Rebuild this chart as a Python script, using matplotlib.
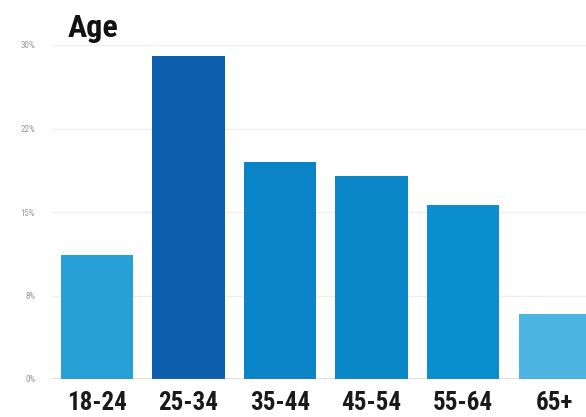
import matplotlib
matplotlib.use("Agg")
import matplotlib.pyplot as plt
from matplotlib import font_manager

categories = ["18-24", "25-34", "35-44", "45-54", "55-64", "65+"]
values = [11.1, 29.0, 19.5, 18.2, 15.6, 5.8]
colors = ["#27a0d8", "#0e5fae", "#0a84c6", "#0a88c8", "#0b8ecd", "#4cb4e0"]
yticks = [0, 7.5, 15, 22.5, 30]
ytick_labels = ["0%", "8%", "15%", "22%", "30%"]
title = "Age"

names = {f.name for f in font_manager.fontManager.ttflist}
cond = [n for n in ["Roboto Condensed", "Liberation Sans Narrow", "DejaVu Sans Condensed", "Open Sans Condensed"] if n in names]
bold_family = cond + ["DejaVu Sans"]

fig = plt.figure(figsize=(5.86, 4.17), dpi=100)
ax = fig.add_axes([52/586, 1-379/417, 1-52/586, (379-45)/417])

x = list(range(len(categories)))
ax.bar(x, values, width=0.79, color=colors, zorder=3)
ax.set_xlim(-0.49, 5.34)
ax.set_ylim(0, 30)
ax.set_yticks(yticks)
ax.set_yticklabels(ytick_labels, fontsize=6.5, color="#999999", family=bold_family)
ax.set_xticks(x)
ax.set_xticklabels(categories, fontsize=18, fontweight="bold", family=bold_family, color="#1a1a1a")
ax.tick_params(axis="y", length=0, pad=12)
ax.tick_params(axis="x", length=0, pad=9)
for s in ax.spines.values():
    s.set_visible(False)
ax.grid(axis="y", color="#efefef", linewidth=1, zorder=0)
ax.axhline(0, color="#8a7060", linewidth=1, zorder=4)

fig.text(68/586, 1-37/417, title, fontsize=23, fontweight="bold", family=bold_family, color="#111111", va="baseline")

fig.savefig("out.png", dpi=100)
